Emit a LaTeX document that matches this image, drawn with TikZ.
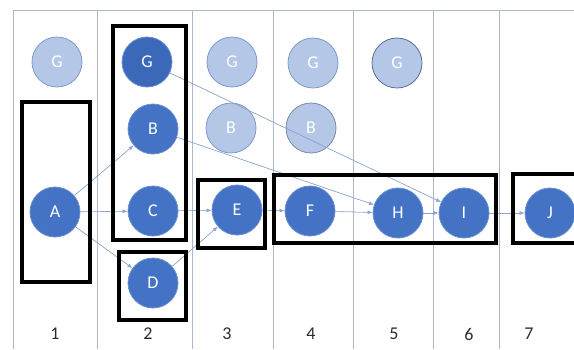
\documentclass[tikz,border=0pt]{standalone}
\usepackage{fontspec}
\setmainfont{Carlito}
\usepackage{tikz}
\usetikzlibrary{arrows.meta}

\definecolor{nodeblue}{HTML}{4472C4}
\definecolor{nodedeep}{HTML}{3C68BA}
\definecolor{nodeline}{HTML}{6B8FD0}
\definecolor{ghostfill}{HTML}{B4C7E7}
\definecolor{ghostline}{HTML}{7E9ACB}
\definecolor{ghostdark}{HTML}{5A6D92}
\definecolor{gridline}{HTML}{A9B7D0}
\definecolor{linkblue}{HTML}{8DA4CF}
\definecolor{labelgrey}{HTML}{2B2B2B}

\begin{document}
\begin{tikzpicture}[x=1pt, y=-1pt,
    vertex/.style={circle, fill=nodeblue, draw=nodeline, line width=0.8pt,
      minimum size=50pt, inner sep=0pt, text=white, font=\fontsize{18}{18}\selectfont},
    ghost/.style={vertex, fill=ghostfill, draw=ghostline},
    grid/.style={draw=gridline, line width=0.8pt},
    group/.style={draw=black, line width=3.4pt},
    link/.style={-{Latex[length=5pt,width=4pt]}, draw=linkblue, line width=0.6pt,
      color=linkblue, fill=nodeblue}]
    \useasboundingbox (0,0) rectangle (574,349);
    % columns
    \draw[grid] (13,349) -- (13,10) -- (574,10);
    \foreach \x in {97,192,273,353,433,499}
        \draw[grid] (\x,10) -- (\x,349);
    \foreach \n/\x in {1/55,2/148,3/227,4/311,5/394,6/469,7/529}
        \node[text=labelgrey, font=\fontsize{18}{18}\selectfont] (num\n) at (\x,334) {\n};
    % faded copies
    \node[ghost] (g1) at (57,62) {G};
    \node[ghost] (g3) at (232,62) {G};
    \node[ghost] (g4) at (313,63) {G};
    \node[ghost, draw=ghostdark] (g5) at (397,63) {G};
    \node[ghost] (b3) at (231,128) {B};
    \node[ghost, draw=ghostdark!80] (b4) at (311,128) {B};
    % active nodes
    \node[vertex, fill=nodedeep] (g2) at (147,62) {G};
    \node[vertex] (b2) at (153,129) {B};
    \node[vertex] (A) at (55,212) {A};
    \node[vertex] (C) at (153,211) {C};
    \node[vertex] (D) at (153,283) {D};
    \node[vertex] (E) at (237,210) {E};
    \node[vertex] (F) at (310,211) {F};
    \node[vertex] (H) at (398,213) {H};
    \node[vertex] (I) at (464,213) {I};
    \node[vertex] (J) at (550,213) {J};
    % edges
    \draw[link] (A) -- (b2);
    \draw[link] (A) -- (C);
    \draw[link] (A) -- (D);
    \draw[link] (C) -- (E);
    \draw[link] (D) -- (E);
    \draw[link] (E) -- (F);
    \draw[link] (F) -- (H);
    \draw[link] (H) -- (I);
    \draw[link] (I) -- (J);
    \draw[link] (g2) -- (I);
    \draw[link] (b2) -- (H);
    % groups
    \draw[group] (22,102) rectangle (90,282);
    \draw[group] (113,26) rectangle (186,240);
    \draw[group] (119,252) rectangle (186,320);
    \draw[group] (198,180) rectangle (265,248);
    \draw[group] (274,175) rectangle (496,243);
    \draw[group] (513,174) rectangle (590,243);
\end{tikzpicture}
\end{document}
